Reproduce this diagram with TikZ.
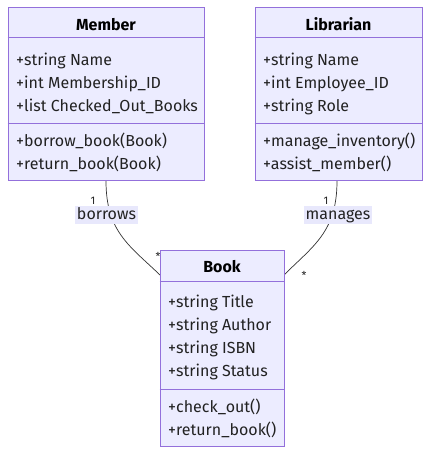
\documentclass[tikz,border=0pt]{standalone}
\usepackage{fontspec}
\setmainfont{Fira Sans}
\definecolor{umlfill}{HTML}{ECECFF}
\definecolor{umlstroke}{HTML}{9370DB}
\definecolor{txtcol}{HTML}{222222}
\definecolor{linecol}{HTML}{333333}
\definecolor{lblfill}{HTML}{E8E8FC}
\begin{document}
\begin{tikzpicture}[x=1pt,y=-1pt,
  classbox/.style={draw=umlstroke, fill=umlfill, line width=1pt, inner sep=0pt},
  divider/.style={draw=umlstroke, line width=1pt},
  txt/.style={anchor=base west, inner sep=0pt, font=\fontsize{16}{19}\selectfont, text=txtcol},
  ttl/.style={anchor=base, inner sep=0pt, font=\fontsize{16}{19}\selectfont\bfseries, text=black},
  edge/.style={draw=linecol, line width=0.7pt},
  lbl/.style={fill=lblfill, inner xsep=1.5pt, inner ysep=1pt, text height=12pt, text depth=4pt, font=\fontsize{16}{19}\selectfont, text=txtcol},
  card/.style={inner sep=0pt, font=\fontsize{11}{13}\selectfont, text=txtcol}]
\useasboundingbox (0,0) rectangle (430,454);
% connectors
\coordinate (m1) at (106,181);
\coordinate (b1) at (160,275);
\coordinate (l1) at (337,181);
\coordinate (b2) at (284,275);
\draw[edge] (m1) .. controls (106,232) and (130,246) .. (b1);
\draw[edge] (l1) .. controls (337,232) and (313,246) .. (b2);
\node[lbl] (borrows) at (106.5,215) {borrows};
\node[lbl] (manages) at (338,215) {manages};
\node[card] (c1) at (93,200.5) {1};
\node[card] (c2) at (158,256) {*};
\node[card] (c3) at (326,200.5) {1};
\node[card] (c4) at (304,275) {*};
% Member
\node[classbox, minimum width=196pt, minimum height=173pt] (member) at (106,94.5) {};
\draw[divider] (member.west |- 0,38) -- (member.east |- 0,38);
\draw[divider] (member.west |- 0,124) -- (member.east |- 0,124);
\node[ttl] (memberT) at (106,31) {Member};
\node[txt] (ma1) at (16,66) {+string Name};
\node[txt] (ma2) at (16,89) {+int Membership\_ID};
\node[txt] (ma3) at (16,112) {+list Checked\_Out\_Books};
\node[txt] (mm1) at (16,147) {+borrow\_book(Book)};
\node[txt] (mm2) at (16,170) {+return\_book(Book)};
% Librarian
\node[classbox, minimum width=167pt, minimum height=173pt] (lib) at (338.5,94.5) {};
\draw[divider] (lib.west |- 0,38) -- (lib.east |- 0,38);
\draw[divider] (lib.west |- 0,124) -- (lib.east |- 0,124);
\node[ttl] (libT) at (338.5,31) {Librarian};
\node[txt] (la1) at (263,66) {+string Name};
\node[txt] (la2) at (263,89) {+int Employee\_ID};
\node[txt] (la3) at (263,112) {+string Role};
\node[txt] (lm1) at (263,147) {+manage\_inventory()};
\node[txt] (lm2) at (263,170) {+assist\_member()};
% Book
\node[classbox, minimum width=124pt, minimum height=196pt] (book) at (222,348) {};
\draw[divider] (book.west |- 0,281) -- (book.east |- 0,281);
\draw[divider] (book.west |- 0,389) -- (book.east |- 0,389);
\node[ttl] (bookT) at (222,272) {Book};
\node[txt] (ba1) at (168,307) {+string Title};
\node[txt] (ba2) at (168,330) {+string Author};
\node[txt] (ba3) at (168,353) {+string ISBN};
\node[txt] (ba4) at (168,376) {+string Status};
\node[txt] (bm1) at (168,412) {+check\_out()};
\node[txt] (bm2) at (168,435) {+return\_book()};
\end{tikzpicture}
\end{document}
